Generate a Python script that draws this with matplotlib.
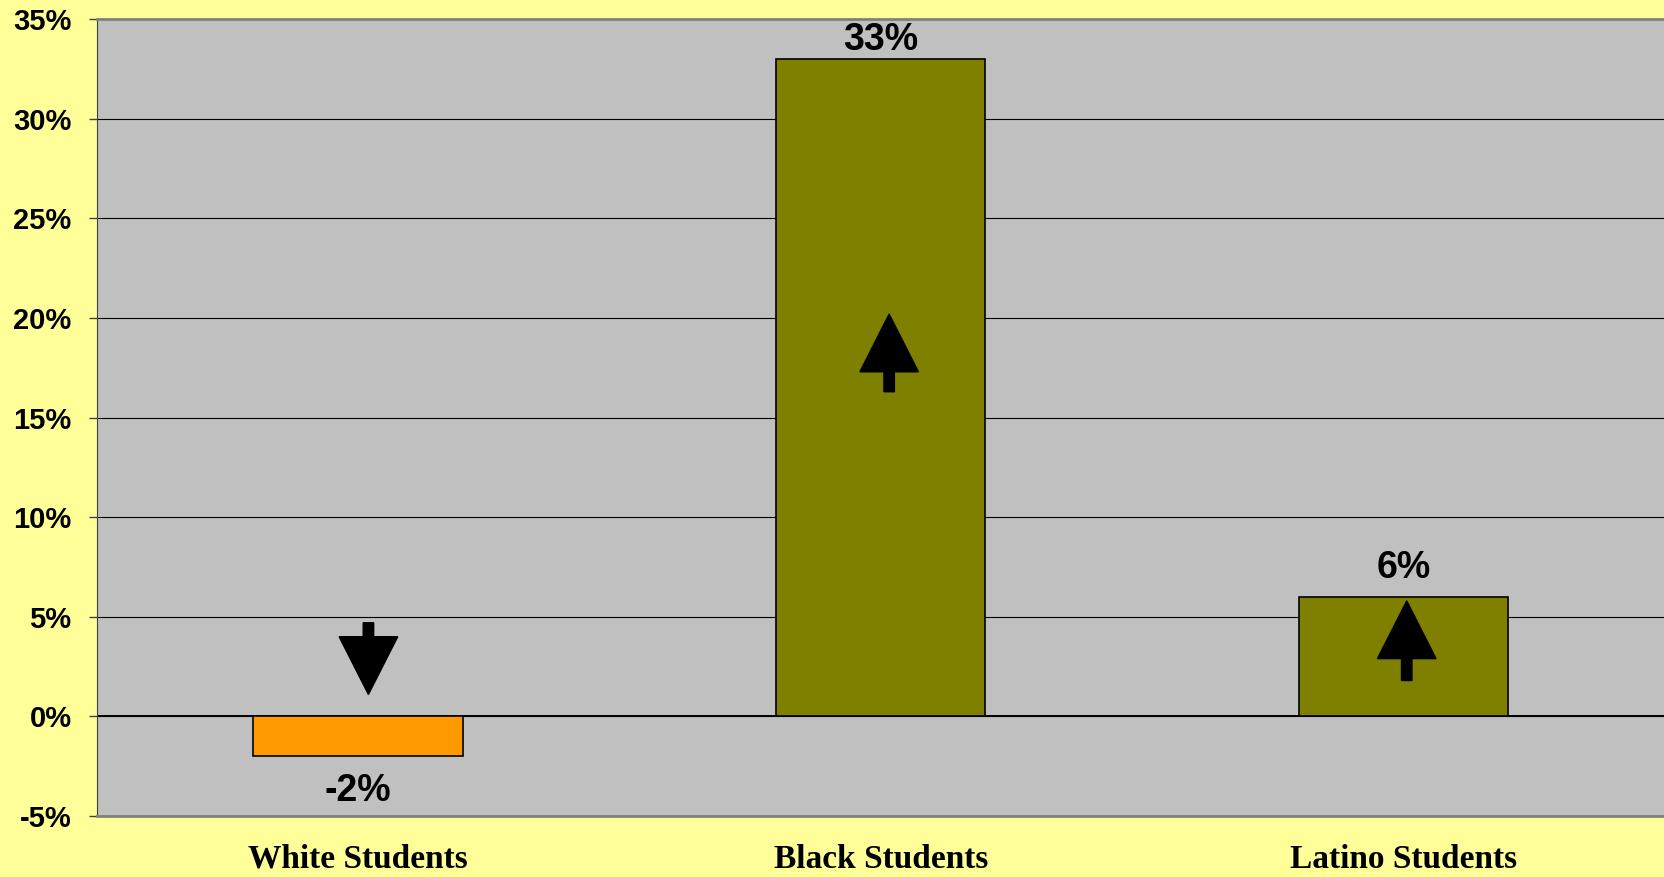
import matplotlib.pyplot as plt
from matplotlib.ticker import FuncFormatter

groups = ['White Students', 'Black Students', 'Latino Students']
change_pct = [-2, 33, 6]
bar_colors = ['#FF9900', '#808000', '#808000']
value_labels = ['-2%', '33%', '6%']

# decorative block arrows: (x, stem end, tip)
arrows = [(0.02, 4.7, 1.1), (1.016, 16.3, 20.2), (2.006, 1.8, 5.8)]

fig = plt.figure(figsize=(16.65, 8.77), dpi=100, facecolor='#FFFF99')
ax = fig.add_axes([0.058, 0.0696, 0.942, 0.9084])
ax.set_facecolor('#C0C0C0')

x = list(range(len(groups)))
bars = ax.bar(x, change_pct, width=0.40, color=bar_colors, edgecolor='black',
              linewidth=1.2, zorder=3)

ax.set_xlim(-0.5, 2.5)
ax.set_ylim(-5, 35)
ax.set_yticks(range(-5, 36, 5))
ax.yaxis.set_major_formatter(FuncFormatter(lambda v, p: f'{v:.0f}%'))
ax.grid(axis='y', color='black', linewidth=0.8, zorder=1)
ax.axhline(0, color='black', linewidth=1.4, zorder=2)

for lab in ax.get_yticklabels():
    lab.set_fontfamily('Liberation Sans')
    lab.set_fontweight('bold')
    lab.set_fontsize(21)
ax.tick_params(axis='y', length=6, width=1, color='#404040', pad=12)

ax.set_xticks(x)
ax.set_xticklabels(groups, fontfamily='Liberation Serif', fontweight='bold',
                   fontsize=24)
ax.tick_params(axis='x', length=0, pad=20)

for s in ['top', 'bottom']:
    ax.spines[s].set_color('#808080')
    ax.spines[s].set_linewidth(2)
ax.spines['left'].set_color('#404040')
ax.spines['right'].set_visible(False)

offsets = [-12, 1, 8]
for b, v, txt, off in zip(bars, change_pct, value_labels, offsets):
    ax.annotate(txt, (b.get_x() + b.get_width() / 2, v),
                xytext=(0, off), textcoords='offset points',
                ha='center', va='bottom' if v >= 0 else 'top',
                fontfamily='Liberation Sans', fontweight='bold', fontsize=27,
                zorder=5)

for ax_x, y0, y1 in arrows:
    ax.arrow(ax_x, y0, 0, y1 - y0, width=0.02, head_width=0.112,
             head_length=2.9, length_includes_head=True,
             color='black', zorder=4)

fig.savefig('out.png', dpi=100, facecolor=fig.get_facecolor())
